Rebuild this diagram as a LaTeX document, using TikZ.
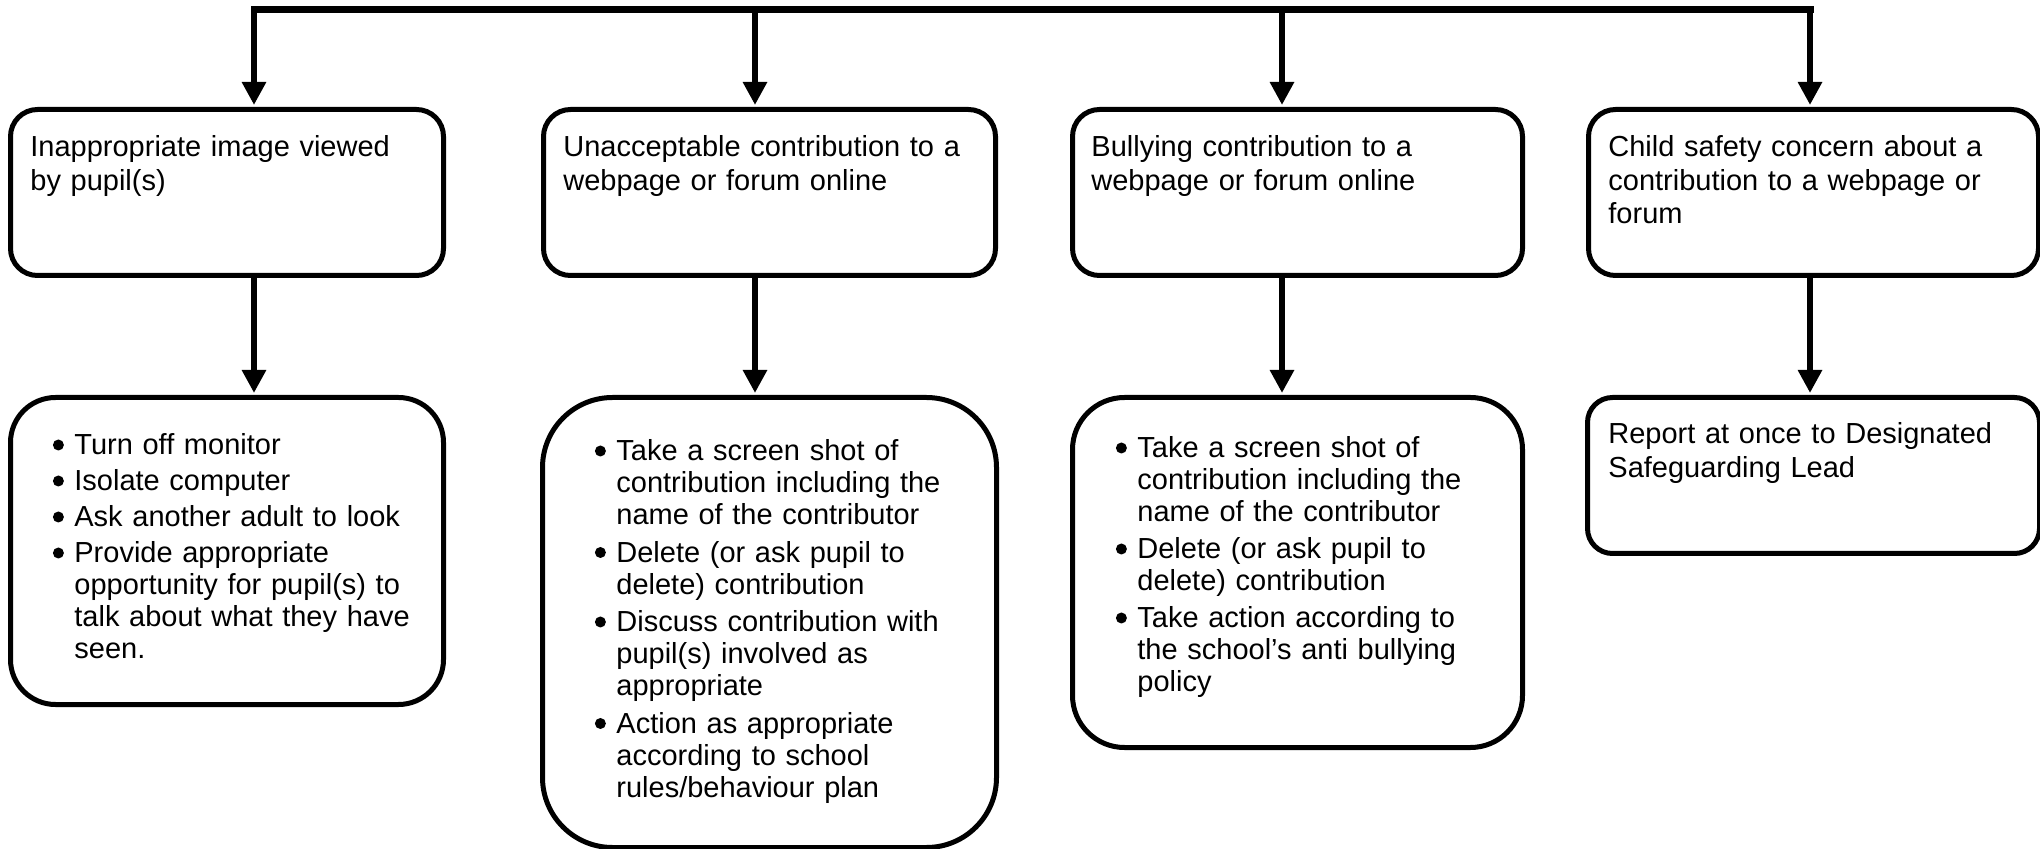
\documentclass[tikz,border=0pt]{standalone}
\usepackage{fontspec}
\setmainfont{Liberation Sans}
\usetikzlibrary{arrows.meta}
\newcommand{\bulmark}{\tikz[baseline={(0pt,-5pt)}]\fill[black] (0pt,0pt) circle[radius=2.75pt];}
\newcommand{\bul}{\noindent\hangindent=14pt\hangafter=1\hbox to 14pt{\hss\bulmark\hskip 5.25pt}\ignorespaces}
\begin{document}
\begin{tikzpicture}[x=0.5pt,y=-0.5pt,
  box/.style={draw=black, line width=2.5pt, fill=white, inner sep=0pt, anchor=north west},
  lbl/.style={anchor=base west, inner sep=0pt, text width=215pt,
    font=\fontsize{14.5pt}{16.75pt}\selectfont},
  blist/.style={anchor=base west, inner sep=0pt, text width=215pt,
    font=\fontsize{14.5pt}{16pt}\selectfont},
  bus/.style={line width=3.5pt, line cap=rect},
  arr/.style={line width=3pt, -{Triangle[width=11.5pt,length=11.5pt]}, shorten >=1pt},
]
\useasboundingbox (0,0) rectangle (2040,849);
\fill[white] (0,0) rectangle (2040,849);

% top row boxes
\node[box, minimum width=216.5pt, minimum height=83pt, rounded corners=13.5pt] (b1) at (8,107) {};
\node[box, minimum width=226pt, minimum height=83pt, rounded corners=13.5pt] (b2) at (541,107) {};
\node[box, minimum width=225pt, minimum height=83pt, rounded corners=13.5pt] (b3) at (1070,107) {};
\node[box, minimum width=225pt, minimum height=83pt, rounded corners=13.5pt] (b4) at (1586,107) {};

% bottom row boxes
\node[box, minimum width=216.5pt, minimum height=153.5pt, rounded corners=22.5pt] (c1) at (8,395) {};
\node[box, minimum width=227pt, minimum height=225pt, rounded corners=35pt] (c2) at (540,395) {};
\node[box, minimum width=225pt, minimum height=175pt, rounded corners=26pt] (c3) at (1070,395) {};
\node[box, minimum width=226pt, minimum height=78pt, rounded corners=12.5pt] (c4) at (1585,395) {};

% top row texts
\node[lbl] (tb1) at (30,157) {Inappropriate image viewed\newline by pupil(s)};
\node[lbl] (tb2) at (563,157) {Unacceptable contribution to a\newline webpage or forum online};
\node[lbl] (tb3) at (1091,157) {Bullying contribution to a\newline webpage or forum online};
\node[lbl] (tb4) at (1608,157) {Child safety concern about a\newline contribution to a webpage or\newline forum};

% bottom row texts
\node[blist] (tc1) at (46,455) {\bul\setlength{\parskip}{2pt}Turn off monitor\par
\bul Isolate computer\par
\bul Ask another adult to look\par
\bul Provide appropriate\newline opportunity for pupil(s) to\newline talk about what they have\newline seen.\par};
\node[blist] (tc2) at (588,461) {\bul\setlength{\parskip}{2.75pt}Take a screen shot of\newline contribution including the\newline name of the contributor\par
\bul Delete (or ask pupil to\newline delete) contribution\par
\bul Discuss contribution with\newline pupil(s) involved as\newline appropriate\par
\bul Action as appropriate\newline according to school\newline rules/behaviour plan\par};
\node[blist] (tc3) at (1109,458) {\bul\setlength{\parskip}{2.5pt}Take a screen shot of\newline contribution including the\newline name of the contributor\par
\bul Delete (or ask pupil to\newline delete) contribution\par
\bul Take action according to\newline the school’s anti bullying\newline policy\par};
\node[lbl, font=\fontsize{14.5pt}{17pt}\selectfont] (tc4) at (1608,444) {Report at once to Designated\newline Safeguarding Lead};

% connectors
\coordinate (j1) at (254,10);
\coordinate (j2) at (755,10);
\coordinate (j3) at (1282,10);
\coordinate (j4) at (1810,10);
\draw[bus] (j1) -- (j4);
\draw[arr] (j1) -- (j1 |- b1.north);
\draw[arr] (j2) -- (j2 |- b2.north);
\draw[arr] (j3) -- (j3 |- b3.north);
\draw[arr] (j4) -- (j4 |- b4.north);
\draw[arr] (j1 |- b1.south) -- (j1 |- c1.north);
\draw[arr] (j2 |- b2.south) -- (j2 |- c2.north);
\draw[arr] (j3 |- b3.south) -- (j3 |- c3.north);
\draw[arr] (j4 |- b4.south) -- (j4 |- c4.north);
\end{tikzpicture}
\end{document}
